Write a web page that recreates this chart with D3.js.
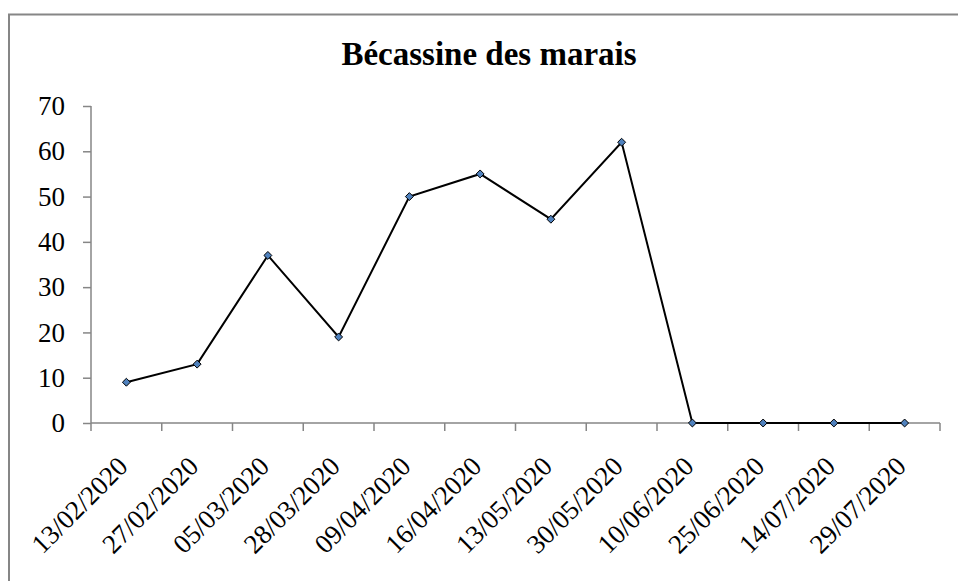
<!DOCTYPE html>
<html>
<head>
<meta charset="utf-8">
<script src="https://cdnjs.cloudflare.com/ajax/libs/d3/7.8.5/d3.min.js"></script>
<style>
  body { margin: 0; background: #fff; }
  svg { display: block; }
</style>
</head>
<body>
<div id="chart"></div>
<script>
// Chart data
var titleText = "Bécassine des marais";
var dates = ["13/02/2020", "27/02/2020", "05/03/2020", "28/03/2020", "09/04/2020", "16/04/2020",
             "13/05/2020", "30/05/2020", "10/06/2020", "25/06/2020", "14/07/2020", "29/07/2020"];
var counts = [9, 13, 37, 19, 50, 55, 45, 62, 0, 0, 0, 0];
var yTicks = [0, 10, 20, 30, 40, 50, 60, 70];

var W = 958, H = 581;
var font = "'Liberation Serif', 'Times New Roman', serif";
var axisColor = "#868686";

var svg = d3.select("#chart").append("svg")
    .attr("width", W)
    .attr("height", H);

// Outer frame
svg.append("rect")
    .attr("x", 9)
    .attr("y", 14.5)
    .attr("width", W + 10)
    .attr("height", H + 10)
    .attr("fill", "none")
    .attr("stroke", axisColor)
    .attr("stroke-width", 2);

// Title
svg.append("text")
    .attr("x", 489)
    .attr("y", 65)
    .attr("text-anchor", "middle")
    .style("font-family", font)
    .style("font-weight", "bold")
    .style("font-size", "33px")
    .text(titleText);

var plot = {left: 91, right: 940, top: 106, bottom: 423};

var x = d3.scaleBand()
    .domain(dates)
    .range([plot.left, plot.right])
    .padding(0);

var y = d3.scaleLinear()
    .domain([0, 70])
    .range([plot.bottom, plot.top]);

// Y axis
var yAxis = svg.append("g")
    .attr("transform", "translate(" + plot.left + ",0)")
    .call(d3.axisLeft(y).tickValues(yTicks).tickSize(8).tickPadding(18).tickFormat(d3.format("d")));
yAxis.select(".domain").attr("stroke", axisColor).attr("stroke-width", 1.5).attr("d", "M0," + plot.top + "V" + plot.bottom);
yAxis.selectAll(".tick line").attr("stroke", axisColor).attr("stroke-width", 1.5);
yAxis.selectAll(".tick text")
    .style("font-family", font)
    .style("font-size", "27px")
    .attr("fill", "#000");

// X axis: ticks on category boundaries
var xAxis = svg.append("g")
    .attr("transform", "translate(0," + plot.bottom + ")");
xAxis.append("line")
    .attr("x1", plot.left).attr("x2", plot.right)
    .attr("stroke", axisColor).attr("stroke-width", 1.5);
var bounds = dates.map(function(d) { return x(d); }).concat([plot.right]);
xAxis.selectAll(".xtick")
    .data(bounds)
    .enter().append("line")
    .attr("class", "xtick")
    .attr("x1", function(d) { return d; })
    .attr("x2", function(d) { return d; })
    .attr("y1", 0)
    .attr("y2", 8)
    .attr("stroke", axisColor)
    .attr("stroke-width", 1.5);

xAxis.selectAll(".xlabel")
    .data(dates)
    .enter().append("text")
    .attr("class", "xlabel")
    .attr("transform", function(d) {
        return "translate(" + (x(d) + x.bandwidth() / 2 + 3) + ",45) rotate(-45)";
    })
    .attr("text-anchor", "end")
    .style("font-family", font)
    .style("font-size", "27px")
    .text(function(d) { return d; });

// Line
var line = d3.line()
    .x(function(d, i) { return x(dates[i]) + x.bandwidth() / 2; })
    .y(function(d) { return y(d); });

svg.append("path")
    .datum(counts)
    .attr("d", line)
    .attr("fill", "none")
    .attr("stroke", "#000")
    .attr("stroke-width", 2);

// Diamond markers
svg.selectAll(".marker")
    .data(counts)
    .enter().append("path")
    .attr("class", "marker")
    .attr("d", d3.symbol().type(d3.symbolDiamond2).size(40))
    .attr("transform", function(d, i) {
        return "translate(" + (x(dates[i]) + x.bandwidth() / 2) + "," + y(d) + ")";
    })
    .attr("fill", "#4F81BD")
    .attr("stroke", "#000")
    .attr("stroke-width", 1);
</script>
</body>
</html>
